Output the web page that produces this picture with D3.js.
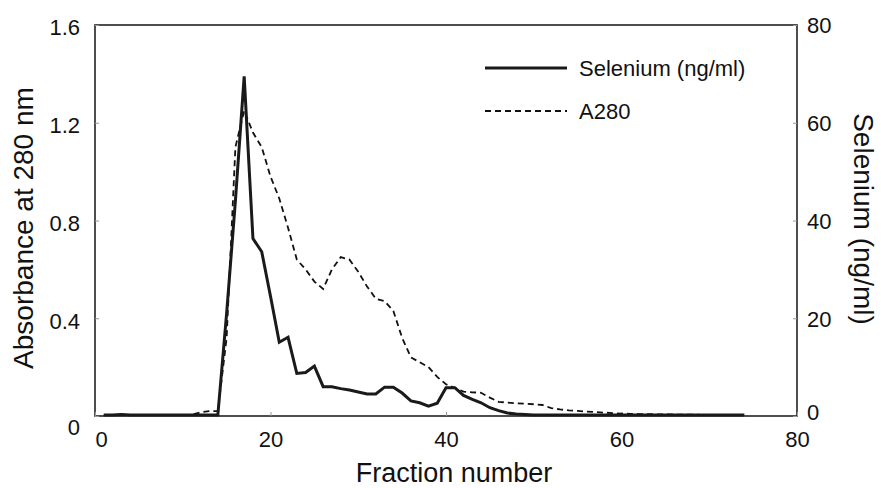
<!DOCTYPE html>
<html>
<head>
<meta charset="utf-8">
<script src="https://cdn.jsdelivr.net/npm/d3@7"></script>
<style>
body { margin: 0; background: #fff; }
text { font-family: "Liberation Sans", Arial, sans-serif; fill: #111; }
</style>
</head>
<body>
<svg id="chart" width="881" height="488"></svg>
<script>
// fraction numbers
var fractions = [1, 2, 3, 4, 5, 6, 7, 8, 9, 10, 11, 12, 13, 14, 15, 16, 17, 18, 19, 20,
    21, 22, 23, 24, 25, 26, 27, 28, 29, 30, 31, 32, 33, 34, 35, 36, 37, 38, 39, 40,
    41, 42, 43, 44, 45, 46, 47, 48, 49, 50, 51, 52, 53, 54, 55, 56, 57, 58, 59, 60,
    61, 62, 63, 64, 65, 66, 67, 68, 69, 70, 71, 72, 73, 74];

// selenium, ng/ml (right axis)
var selenium = [0.2, 0.2, 0.3, 0.2, 0.2, 0.2, 0.2, 0.2, 0.2, 0.2, 0.2, 0.2, 0.2, 0.2, 21, 44, 69.5, 36.3, 33.6, 24.5,
    15.1, 16.1, 8.7, 8.9, 10.2, 6.0, 6.0, 5.6, 5.3, 4.9, 4.5, 4.5, 5.9, 5.9, 4.7, 3.1, 2.7, 2.0, 2.6, 5.8,
    5.8, 4.2, 3.4, 2.7, 1.7, 1.1, 0.6, 0.4, 0.3, 0.2, 0.2, 0.2, 0.2, 0.2, 0.2, 0.2, 0.2, 0.2, 0.2, 0.2,
    0.2, 0.2, 0.2, 0.2, 0.2, 0.2, 0.2, 0.2, 0.2, 0.2, 0.2, 0.2, 0.2, 0.2];

// absorbance at 280 nm (left axis)
var a280 = [0.005, 0.005, 0.005, 0.005, 0.005, 0.005, 0.005, 0.005, 0.005, 0.005, 0.005, 0.015, 0.02, 0.02, 0.32, 1.10, 1.25, 1.16, 1.10, 0.98,
    0.89, 0.77, 0.64, 0.60, 0.55, 0.52, 0.60, 0.65, 0.64, 0.59, 0.53, 0.48, 0.47, 0.43, 0.32, 0.24, 0.22, 0.20, 0.16, 0.13,
    0.115, 0.10, 0.097, 0.095, 0.075, 0.058, 0.055, 0.052, 0.05, 0.048, 0.045, 0.032, 0.027, 0.023, 0.021, 0.018, 0.016, 0.014, 0.012, 0.010,
    0.009, 0.008, 0.008, 0.007, 0.007, 0.006, 0.006, 0.006, 0.005, 0.005, 0.005, 0.005, 0.005, 0.005];

var xTicks = [0, 20, 40, 60, 80];
var leftTicks = [0, 0.4, 0.8, 1.2, 1.6];
var rightTicks = [0, 20, 40, 60, 80];

var plotLeft = 95, plotRight = 797, plotTop = 25, plotBottom = 416;

var svg = d3.select("#chart");

var xScale = d3.scaleLinear().domain([0, 80]).range([plotLeft, plotRight]);
var yLeft = d3.scaleLinear().domain([0, 1.6]).range([plotBottom, plotTop]);
var yRight = d3.scaleLinear().domain([0, 80]).range([plotBottom, plotTop]);

// frame
svg.append("rect")
    .attr("x", plotLeft)
    .attr("y", plotTop)
    .attr("width", plotRight - plotLeft)
    .attr("height", plotBottom - plotTop)
    .attr("fill", "none")
    .attr("stroke", "#222")
    .attr("stroke-width", 1.6);

// axes, small ticks pointing inward
var xAxis = svg.append("g")
    .attr("transform", "translate(0," + plotBottom + ")")
    .call(d3.axisBottom(xScale).tickValues(xTicks).tickSizeInner(-4).tickSizeOuter(0).tickPadding(15));

var lAxis = svg.append("g")
    .attr("transform", "translate(" + plotLeft + ",0)")
    .call(d3.axisLeft(yLeft).tickValues(leftTicks).tickSizeInner(-4).tickSizeOuter(0).tickPadding(15)
        .tickFormat(function (d) { return d === 0 ? "0" : d3.format(".1f")(d); }));

var rAxis = svg.append("g")
    .attr("transform", "translate(" + plotRight + ",0)")
    .call(d3.axisRight(yRight).tickValues(rightTicks).tickSizeInner(-4).tickSizeOuter(0).tickPadding(10));

[xAxis, lAxis, rAxis].forEach(function (g) {
    g.select(".domain").remove();
    g.selectAll(".tick line").attr("stroke", "#999").attr("stroke-width", 1);
    g.selectAll("text").style("font-size", "22px").attr("fill", "#111");
});

xAxis.selectAll("text").attr("dx", function (d) { return d === 0 ? 6 : 0; });
lAxis.selectAll("text").attr("dy", function (d) { return d === 0 ? "0.85em" : "0.45em"; });
rAxis.selectAll("text").attr("dy", function (d) { return d === 0 ? "0.18em" : "0.36em"; });

// A280 dashed
var lineA = d3.line()
    .x(function (d, i) { return xScale(fractions[i]); })
    .y(function (d) { return yLeft(d); });

svg.append("path")
    .datum(a280)
    .attr("fill", "none")
    .attr("stroke", "#111")
    .attr("stroke-width", 1.8)
    .attr("stroke-dasharray", "6,4")
    .attr("d", lineA);

// selenium solid
var lineSe = d3.line()
    .x(function (d, i) { return xScale(fractions[i]); })
    .y(function (d) { return yRight(d); });

svg.append("path")
    .datum(selenium)
    .attr("fill", "none")
    .attr("stroke", "#1a1a1a")
    .attr("stroke-width", 3)
    .attr("stroke-linejoin", "miter")
    .attr("d", lineSe);

// legend
var legend = svg.append("g");
legend.append("line")
    .attr("x1", 485).attr("x2", 567).attr("y1", 68).attr("y2", 68)
    .attr("stroke", "#1a1a1a").attr("stroke-width", 3);
legend.append("text")
    .attr("x", 579).attr("y", 68).attr("dy", "0.36em")
    .style("font-size", "22px")
    .text("Selenium (ng/ml)");
legend.append("line")
    .attr("x1", 485).attr("x2", 567).attr("y1", 111).attr("y2", 111)
    .attr("stroke", "#111").attr("stroke-width", 1.8).attr("stroke-dasharray", "6,4");
legend.append("text")
    .attr("x", 579).attr("y", 111).attr("dy", "0.36em")
    .style("font-size", "22px")
    .text("A280");

// axis titles
svg.append("text")
    .attr("transform", "translate(33,228) rotate(-90)")
    .attr("text-anchor", "middle")
    .style("font-size", "28px")
    .text("Absorbance at 280 nm");

svg.append("text")
    .attr("x", 454).attr("y", 482)
    .attr("text-anchor", "middle")
    .style("font-size", "27px")
    .text("Fraction number");

svg.append("text")
    .attr("transform", "translate(854,219) rotate(90)")
    .attr("text-anchor", "middle")
    .style("font-size", "28px")
    .text("Selenium (ng/ml)");
</script>
</body>
</html>
